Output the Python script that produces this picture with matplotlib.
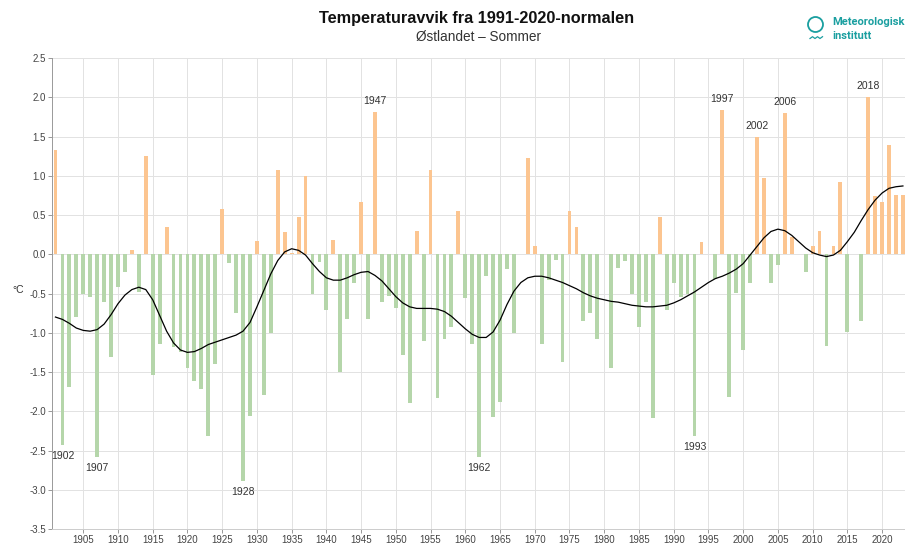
import numpy as np
import matplotlib
matplotlib.use('Agg')
import matplotlib.pyplot as plt
from matplotlib.patches import Circle
from matplotlib.lines import Line2D

plt.rcParams['font.family'] = ['Liberation Sans', 'DejaVu Sans']

# summer temperature anomaly (deg C) vs 1991-2020, one value per year
years = np.arange(1901, 2024)
anomaly = [
    1.33, -2.43, -1.69, -0.80, -0.50, -0.54, -2.58, -0.61, -1.31, -0.42,   # 1901-1910
    -0.22, 0.05, -0.48, 1.25, -1.54, -1.14, 0.35, -1.18, -1.25, -1.45,     # 1911-1920
    -1.62, -1.72, -2.32, -1.40, 0.58, -0.11, -0.75, -2.89, -2.06, 0.17,    # 1921-1930
    -1.79, -1.00, 1.07, 0.28, 0.02, 0.47, 1.00, -0.50, -0.10, -0.71,       # 1931-1940
    0.18, -1.50, -0.83, -0.37, 0.66, -0.83, 1.81, -0.61, -0.53, -0.69,     # 1941-1950
    -1.28, -1.90, 0.30, -1.11, 1.07, -1.83, -1.08, -0.93, 0.55, -0.56,     # 1951-1960
    -1.14, -2.58, -0.28, -2.07, -1.88, -0.19, -1.00, 0.0, 1.22, 0.10,      # 1961-1970
    -1.14, -0.33, -0.07, -1.37, 0.55, 0.35, -0.85, -0.75, -1.08, 0.0,      # 1971-1980
    -1.45, -0.18, -0.09, -0.50, -0.93, -0.61, -2.09, 0.48, -0.71, -0.36,   # 1981-1990
    -0.54, -0.50, -2.32, 0.16, 0.0, -0.32, 1.84, -1.82, -0.49, -1.22,      # 1991-2000
    -0.36, 1.49, 0.97, -0.37, -0.14, 1.80, 0.22, 0.0, -0.22, 0.10,         # 2001-2010
    0.30, -1.17, 0.11, 0.92, -0.99, 0.0, -0.85, 2.00, 0.74, 0.67,          # 2011-2020
    1.39, 0.75, 0.75,                                                      # 2021-2023
]

# smoothed trend curve
smooth = [
    -0.80, -0.83, -0.88, -0.94, -0.97, -0.98, -0.96, -0.89, -0.77, -0.63,
    -0.52, -0.45, -0.42, -0.45, -0.58, -0.78, -0.98, -1.13, -1.22, -1.25,
    -1.24, -1.20, -1.15, -1.12, -1.09, -1.06, -1.03, -0.98, -0.87, -0.67,
    -0.46, -0.25, -0.08, 0.03, 0.07, 0.05, -0.01, -0.12, -0.22, -0.30,
    -0.33, -0.33, -0.30, -0.26, -0.23, -0.22, -0.27, -0.34, -0.44, -0.54,
    -0.62, -0.67, -0.69, -0.69, -0.69, -0.70, -0.73, -0.79, -0.87, -0.95,
    -1.02, -1.06, -1.06, -0.99, -0.84, -0.64, -0.47, -0.36, -0.30, -0.28,
    -0.28, -0.30, -0.33, -0.36, -0.40, -0.44, -0.49, -0.53, -0.56, -0.58,
    -0.60, -0.61, -0.63, -0.65, -0.66, -0.67, -0.67, -0.66, -0.65, -0.62,
    -0.58, -0.53, -0.48, -0.42, -0.36, -0.31, -0.28, -0.24, -0.19, -0.12,
    -0.01, 0.10, 0.21, 0.29, 0.32, 0.30, 0.24, 0.16, 0.08, 0.02,
    -0.01, -0.03, -0.01, 0.05, 0.16, 0.28, 0.43, 0.57, 0.69, 0.78,
    0.84, 0.86, 0.87,
]

labels_low = [1902, 1907, 1928, 1962, 1993]
labels_high = [1947, 1997, 2002, 2006, 2018]

warm = '#fcc590'
cold = '#b5d6aa'
teal = '#1a9fa0'

anomaly = np.array(anomaly)

fig = plt.figure(figsize=(9.05, 5.45), dpi=100)
ax = fig.add_axes((52/905, 1-529/545, 1-52/905, 471/545))

colors = [warm if v >= 0 else cold for v in anomaly]
ax.bar(years, anomaly, width=0.55, color=colors, zorder=2)
ax.plot(years, smooth, color='black', lw=0.9, zorder=3)

for y in labels_low:
    v = anomaly[years == y][0]
    ax.annotate(str(y), (y, v), xytext=(0, -8), textcoords='offset points',
                ha='center', va='center', fontsize=7.5, color='#333333')
for y in labels_high:
    v = anomaly[years == y][0]
    ax.annotate(str(y), (y, v), xytext=(0, 8), textcoords='offset points',
                ha='center', va='center', fontsize=7.5, color='#333333')

ax.set_xlim(1900.5, 2023.3)
ax.set_ylim(-3.5, 2.5)
ax.set_xticks(np.arange(1905, 2021, 5))
ax.set_yticks(np.arange(-3.5, 2.51, 0.5))
ax.set_yticklabels([f'{t:.1f}' for t in np.arange(-3.5, 2.51, 0.5)])
ax.tick_params(axis='both', labelsize=7, colors='#888888', labelcolor='#444444',
               length=3, width=0.6, pad=1.5)
ax.grid(True, color='#e2e2e2', lw=0.7, zorder=0)
ax.set_axisbelow(True)
for s in ['top', 'right']:
    ax.spines[s].set_visible(False)
ax.spines['left'].set_color('#999999')
ax.spines['bottom'].set_color('#cccccc')
ax.spines['left'].set_linewidth(0.7)
ax.spines['bottom'].set_linewidth(0.7)

fig.text(18/905, 1-290/545, '°C', fontsize=7.5, color='#333333', ha='center', va='center')

fig.text(477/905, 1-18/545, 'Temperaturavvik fra 1991-2020-normalen',
         ha='center', va='center', fontsize=11.7, fontweight='bold', color='#111111')
fig.text(478/905, 1-37/545, 'Østlandet – Sommer',
         ha='center', va='center', fontsize=9.8, color='#333333')

# institute logo
fig.add_artist(Circle((8.155, 5.45-0.245), 0.075, transform=fig.dpi_scale_trans,
                      fill=False, ec=teal, lw=1.3))
wx = 8.10 + np.array([0, 0.025, 0.05, 0.075, 0.10, 0.125])
wy = 5.45 - 0.385 + np.array([0, 0.018, 0, 0.018, 0, 0.018])
fig.add_artist(Line2D(wx, wy, transform=fig.dpi_scale_trans, color=teal, lw=0.9))
fig.text(832/905, 1-22/545, 'Meteorologisk', fontsize=8, color=teal,
         family='Roboto', fontweight='bold', ha='left', va='center')
fig.text(832/905, 1-36/545, 'institutt', fontsize=8, color=teal,
         family='Roboto', fontweight='bold', ha='left', va='center')

fig.savefig('out.png', dpi=100)
